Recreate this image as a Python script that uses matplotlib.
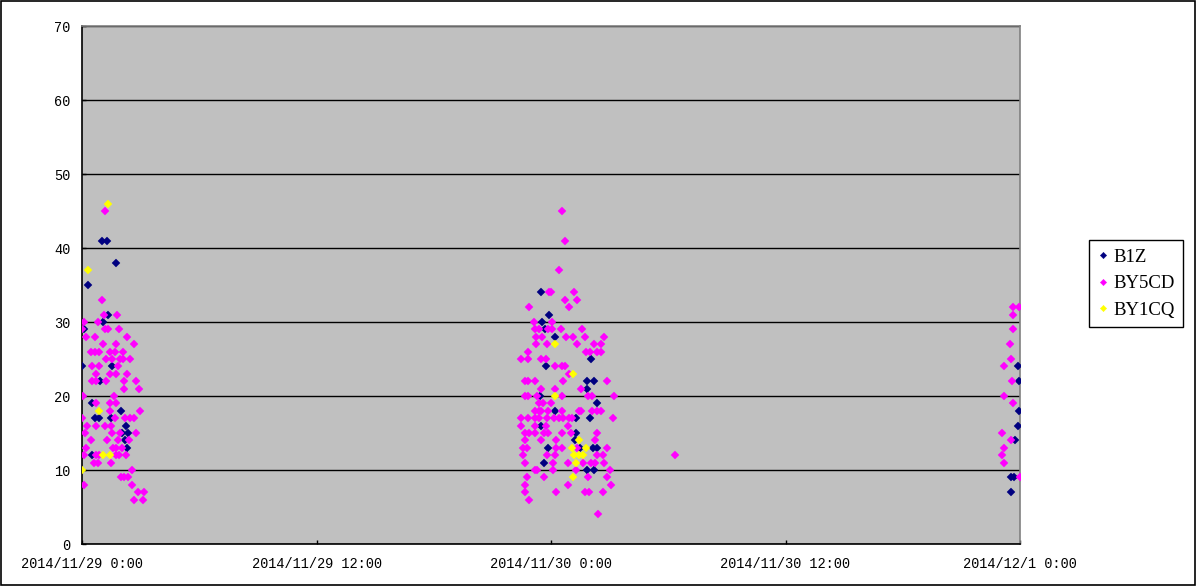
import matplotlib
matplotlib.use("Agg")
import matplotlib.pyplot as plt
import pandas as pd

START = pd.Timestamp("2014-11-29 00:00")

# minutes after 2014/11/29 0:00 and value, per series
b1z_min = [60, 76, 103, 17, 81, 64, 7, 1, 93, 56, 30, 120, 40, 52, 89, 134, 124, 142, 132, 138, 30,
           1408, 1435, 1412, 1421, 1453, 1562, 1425, 1551, 1572, 1550, 1406, 1580, 1453, 1517, 1560,
           1408, 1517, 1515, 1431, 1529, 1568, 1582, 1419, 1551, 1572,
           2874, 2878, 2876, 2874, 2866, 2851, 2862, 2851]
b1z_val = [41, 41, 38, 35, 31, 30, 29, 24, 24, 22, 19, 18, 17, 17, 17, 16, 15, 15, 14, 13, 12,
           34, 31, 30, 29, 28, 25, 24, 22, 22, 21, 20, 19, 18, 17, 17,
           16, 15, 14, 13, 13, 13, 13, 11, 10, 10,
           24, 22, 18, 16, 14, 9, 9, 7]

by5cd_min = [71, 60, 68, 107, 7, 48, 1, 71, 79, 114, 13, 40, 138, 64, 103, 159,
             28, 40, 52, 85, 101, 126, 73, 93, 118, 126, 148, 30, 52, 110,
             42, 87, 103, 138, 30, 44, 73, 128, 167, 130, 175, 3, 97,
             42, 85, 105, 85, 179, 1, 101, 132, 146, 159, 15, 42, 71, 89,
             9, 91, 116, 165, 28, 77, 111, 144, 11, 95, 105, 122,
             5, 44, 52, 105, 114, 134, 38, 50, 89, 153, 120, 130, 142, 5, 154,
             171, 191, 161, 187,
             1474, 1484, 1464, 1433, 1441, 1511, 1482, 1519, 1372, 1496, 1388, 1443,
             1390, 1402, 1431, 1443, 1470, 1535, 1394, 1412, 1486, 1507, 1544, 1603,
             1394, 1427, 1519, 1572, 1593, 1369, 1548, 1560, 1582, 1593,
             1347, 1369, 1410, 1425, 1453, 1474, 1484, 1496,
             1359, 1369, 1392, 1476, 1613, 1408, 1451, 1531,
             1359, 1369, 1398, 1474, 1554, 1566, 1634, 1404, 1416, 1441,
             1390, 1402, 1410, 1431, 1474, 1525, 1533, 1566, 1582, 1593,
             1347, 1369, 1390, 1404, 1429, 1449, 1466, 1476, 1496, 1505, 1631,
             1349, 1390, 1425, 1492,
             1361, 1373, 1390, 1419, 1431, 1474, 1502, 1580,
             1361, 1410, 1455, 1574, 1353, 1365, 1455, 1474, 1519, 1611,
             1355, 1427, 1451, 1582, 1601,
             1361, 1445, 1492, 1539, 1562, 1574, 1603,
             1390, 1398, 1447, 1517, 1621, 1365, 1419, 1554, 1613,
             1361, 1492, 1623, 1361, 1455, 1544, 1558, 1599, 1372, 1584, 1821,
             2860, 2878, 2860, 2858, 2849, 2851, 2831, 2855, 2831, 2858,
             2825, 2851, 2831, 2825, 2831, 2880]
by5cd_val = [45, 33, 31, 31, 30, 30, 29, 29, 29, 29, 28, 28, 28, 27, 27, 27,
             26, 26, 26, 26, 26, 26, 25, 25, 25, 25, 25, 24, 24, 24,
             23, 23, 23, 23, 22, 22, 22, 22, 22, 21, 21, 20, 20,
             19, 19, 19, 18, 18, 17, 17, 17, 17, 17, 16, 16, 16, 16,
             15, 15, 15, 15, 14, 14, 14, 14, 13, 13, 13, 13,
             12, 12, 12, 12, 12, 12, 11, 11, 11, 10, 9, 9, 9, 8, 8,
             7, 7, 6, 6,
             45, 41, 37, 34, 34, 34, 33, 33, 32, 32, 30, 30,
             29, 29, 29, 29, 29, 29, 28, 28, 28, 28, 28, 28,
             27, 27, 27, 27, 27, 26, 26, 26, 26, 26,
             25, 25, 25, 25, 24, 24, 24, 23,
             22, 22, 22, 22, 22, 21, 21, 21,
             20, 20, 20, 20, 20, 20, 20, 19, 19, 19,
             18, 18, 18, 18, 18, 18, 18, 18, 18, 18,
             17, 17, 17, 17, 17, 17, 17, 17, 17, 17, 17,
             16, 16, 16, 16,
             15, 15, 15, 15, 15, 15, 15, 15,
             14, 14, 14, 14, 13, 13, 13, 13, 13, 13,
             12, 12, 12, 12, 12,
             11, 11, 11, 11, 11, 11, 11,
             10, 10, 10, 10, 10, 9, 9, 9, 9,
             8, 8, 8, 7, 7, 7, 7, 7, 6, 4, 12,
             32, 32, 31, 29, 27, 25, 24, 22, 20, 19,
             15, 14, 13, 12, 11, 9]

by1cq_min = [80, 19, 52, 64, 85, 1,
             1451, 1507, 1451, 1527, 1504, 1547, 1511, 1525, 1537, 1517, 1507]
by1cq_val = [46, 37, 18, 12, 12, 10,
             27, 23, 20, 14, 13, 13, 12, 12, 12, 11, 9]

series_names = ["B1Z", "BY5CD", "BY1CQ"]
series_colors = ["#000080", "#FF00FF", "#FFFF00"]
series_min = [b1z_min, by5cd_min, by1cq_min]
series_val = [b1z_val, by5cd_val, by1cq_val]

x_ticks_hours = [0, 12, 24, 36, 48]
y_ticks = [0, 10, 20, 30, 40, 50, 60, 70]

fig = plt.figure(figsize=(11.97, 5.86), dpi=100)
ax = fig.add_axes([82 / 1197, 1 - 544 / 586, (1020 - 82) / 1197, (544 - 26) / 586])
ax.set_facecolor("#C0C0C0")

for name, col, mins, vals in zip(series_names, series_colors, series_min, series_val):
    t = START + pd.to_timedelta(mins, unit="m")
    ax.plot(t, vals, linestyle="none", marker="D", markersize=3.6,
            markerfacecolor=col, markeredgecolor=col, markeredgewidth=0.3,
            label=name, zorder=3)

ax.set_xlim(START, START + pd.Timedelta(hours=48))
ax.set_ylim(0, 70)
ax.set_yticks(y_ticks)
tick_times = [START + pd.Timedelta(hours=h) for h in x_ticks_hours]
ax.set_xticks(tick_times)
ax.set_xticklabels([f"{d.year}/{d.month}/{d.day} {d.hour}:{d.minute:02d}" for d in tick_times])

ax.yaxis.grid(True, color="black", linewidth=1.0)
ax.set_axisbelow(True)
ax.tick_params(direction="in", length=3, width=1, colors="black", labelsize=9.8)
ax.tick_params(axis="x", pad=9.5)
ax.tick_params(axis="y", pad=8.5)
for lbl in ax.get_xticklabels() + ax.get_yticklabels():
    lbl.set_family("Liberation Mono")

ax.spines["left"].set_color("black")
ax.spines["bottom"].set_color("black")
ax.spines["top"].set_color("#808080")
ax.spines["right"].set_color("#808080")
for s in ax.spines.values():
    s.set_linewidth(1.2)

leg = fig.legend(loc="upper left", bbox_to_anchor=(1089 / 1197, 1 - 240 / 586),
                 frameon=True, fancybox=False, edgecolor="black", framealpha=1,
                 prop={"family": "Liberation Serif", "size": 13.5},
                 handlelength=0.6, handletextpad=0.25, borderpad=0.45,
                 labelspacing=0.5, markerscale=0.9, borderaxespad=0)
leg.get_frame().set_linewidth(1.0)

# outer figure border
fig.patches.append(plt.Rectangle((0.001, 0.002), 0.997, 0.996, transform=fig.transFigure,
                                 fill=False, edgecolor="black", linewidth=1.2))

fig.savefig("out.png", dpi=100)
